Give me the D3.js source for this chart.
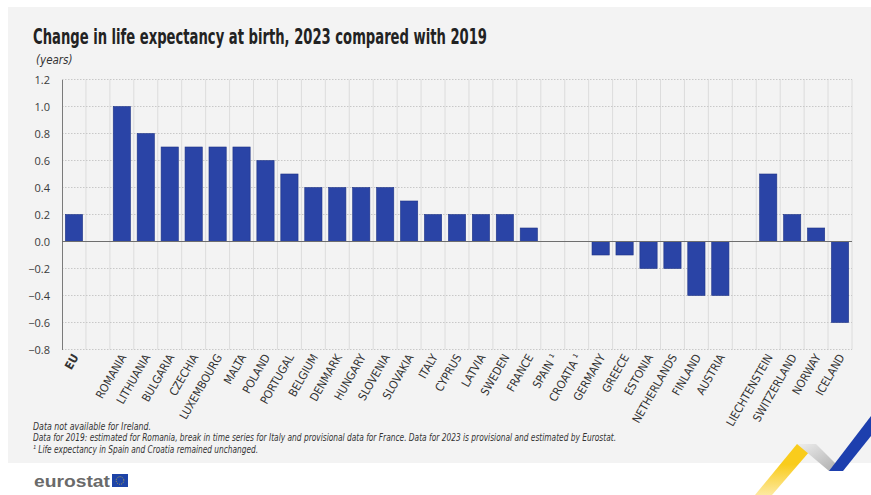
<!DOCTYPE html>
<html><head><meta charset="utf-8">
<script src="https://cdn.jsdelivr.net/npm/d3@7"></script>
<style>
html,body{margin:0;padding:0;background:#fff;}
svg{display:block;}
</style></head>
<body>
<svg id="chart" width="871" height="495"></svg>
<script>
const categories = ["EU","_gap1","ROMANIA","LITHUANIA","BULGARIA","CZECHIA","LUXEMBOURG","MALTA","POLAND","PORTUGAL","BELGIUM","DENMARK","HUNGARY","SLOVENIA","SLOVAKIA","ITALY","CYPRUS","LATVIA","SWEDEN","FRANCE","SPAIN ¹","CROATIA ¹","GERMANY","GREECE","ESTONIA","NETHERLANDS","FINLAND","AUSTRIA","_gap2","LIECHTENSTEIN","SWITZERLAND","NORWAY","ICELAND"];
const values = [0.2,null,1.0,0.8,0.7,0.7,0.7,0.7,0.6,0.5,0.4,0.4,0.4,0.4,0.3,0.2,0.2,0.2,0.2,0.1,0,0,-0.1,-0.1,-0.2,-0.2,-0.4,-0.4,null,0.5,0.2,0.1,-0.6];
const yTicks = [-0.8,-0.6,-0.4,-0.2,0.0,0.2,0.4,0.6,0.8,1.0,1.2];
const title = "Change in life expectancy at birth, 2023 compared with 2019";
const unit = "(years)";
const notes = ["Data not available for Ireland.",
 "Data for 2019: estimated for Romania, break in time series for Italy and provisional data for France. Data for 2023 is provisional and estimated by Eurostat.",
 "¹ Life expectancy in Spain and Croatia remained unchanged."];

const svg = d3.select("#chart");
const condensed = "'Liberation Sans Narrow','DejaVu Sans Condensed','Roboto Condensed',sans-serif";

// background panel
svg.append("rect").attr("x",8).attr("y",7).attr("width",863).attr("height",456).attr("fill","#f3f3f3");

const x = d3.scaleBand().domain(categories).range([62,852]).paddingInner(0.28).paddingOuter(0.14);
const slot = d3.scaleBand().domain(categories).range([62,852]);
const y = d3.scaleLinear().domain([-0.8,1.2]).range([349.5,79.5]);

// vertical grid
const vb = categories.map(c=>slot(c)).concat([852]);
svg.append("g").selectAll("line").data(vb.slice(1)).join("line")
  .attr("x1",d=>d).attr("x2",d=>d).attr("y1",y(1.2)).attr("y2",y(-0.8))
  .attr("stroke","#dcdcdc").attr("stroke-width",1);

// horizontal grid
svg.append("g").selectAll("line").data(yTicks.filter(t=>t!==0)).join("line")
  .attr("x1",62).attr("x2",852).attr("y1",d=>y(d)).attr("y2",d=>y(d))
  .attr("stroke","#c8c8c8").attr("stroke-dasharray","1.5,1.5").attr("stroke-width",1);

// y axis
const yAxis = d3.axisLeft(y).tickValues(yTicks).tickFormat(d3.format(".1f")).tickSize(0).tickPadding(12);
const ga = svg.append("g").attr("transform","translate(62,0)").call(yAxis);
ga.select(".domain").attr("stroke","#7a7a7a");
ga.selectAll("text").attr("font-family","'Open Sans',sans-serif").attr("font-size",11).attr("fill","#3a3a3a");

// bars
const data = categories.map((c,i)=>({c,v:values[i]})).filter(d=>d.v!==null && d.v!==0);
svg.append("g").selectAll("rect").data(data).join("rect")
  .attr("x",d=>x(d.c)).attr("width",x.bandwidth())
  .attr("y",d=>y(Math.max(0,d.v))).attr("height",d=>Math.abs(y(d.v)-y(0)))
  .attr("fill","#2a44a6").attr("stroke","#1f3486").attr("stroke-width",0.6);

// zero line
svg.append("line").attr("x1",62).attr("x2",852).attr("y1",y(0)).attr("y2",y(0)).attr("stroke","#6e6e6e").attr("stroke-width",1.2);

// x labels
svg.append("g").selectAll("text").data(categories.filter(c=>!c.startsWith("_gap"))).join("text")
  .attr("transform",d=>`translate(${slot(d)+slot.bandwidth()/2+5},357) rotate(-60)`)
  .attr("text-anchor","end")
  .attr("font-family",condensed).attr("font-size",11.5)
  .attr("font-weight",d=>d==="EU"?"bold":"normal")
  .attr("fill","#333")
  .text(d=>d);

// title
svg.append("text").attr("x",33).attr("y",44).attr("font-family",condensed).attr("font-weight","bold")
  .attr("font-size",21).attr("fill","#222").attr("textLength",454).attr("lengthAdjust","spacingAndGlyphs").text(title);
svg.append("text").attr("x",36).attr("y",64).attr("font-family",condensed).attr("font-style","italic")
  .attr("font-size",11.5).attr("fill","#333").text(unit);

// notes
const nl = [[33,430,118],[33,441,583],[33,453,225]];
svg.append("g").selectAll("text").data(notes).join("text")
  .attr("x",(d,i)=>nl[i][0]).attr("y",(d,i)=>nl[i][1])
  .attr("font-family",condensed).attr("font-style","italic").attr("font-size",10)
  .attr("fill","#333").attr("textLength",(d,i)=>nl[i][2]).attr("lengthAdjust","spacingAndGlyphs").text(d=>d);

// eurostat logo
svg.append("text").attr("x",34).attr("y",487).attr("font-family","'Liberation Sans',Arial,sans-serif")
  .attr("font-weight","bold").attr("font-size",17).attr("fill","#6a6a6a").attr("textLength",76).attr("lengthAdjust","spacingAndGlyphs").text("eurostat");
svg.append("rect").attr("x",112).attr("y",474).attr("width",16).attr("height",13).attr("fill","#1e44a8");
svg.append("circle").attr("cx",120).attr("cy",480.5).attr("r",3.8).attr("fill","none").attr("stroke","#f0d020").attr("stroke-width",0.8).attr("stroke-dasharray","0.8,1.2");

// decorative ribbon
const defs = svg.append("defs");
const gy = defs.append("linearGradient").attr("id","gy").attr("x1","0").attr("y1","1").attr("x2","0").attr("y2","0");
gy.append("stop").attr("offset","0").attr("stop-color","#fde9a0");
gy.append("stop").attr("offset","0.6").attr("stop-color","#f9cc1c");
const gg = defs.append("linearGradient").attr("id","gg").attr("x1","0").attr("y1","0").attr("x2","1").attr("y2","1");
gg.append("stop").attr("offset","0").attr("stop-color","#eeeeee");
gg.append("stop").attr("offset","1").attr("stop-color","#a9a9a9");
svg.append("polygon").attr("points","755,495 797,444 816,444 772,495").attr("fill","url(#gy)");
svg.append("polygon").attr("points","797,444 816,444 843,471 829,471").attr("fill","url(#gg)");
svg.append("polygon").attr("points","829,471 843,471 871,436 871,416").attr("fill","#1d3fae");
</script>
</body></html>
